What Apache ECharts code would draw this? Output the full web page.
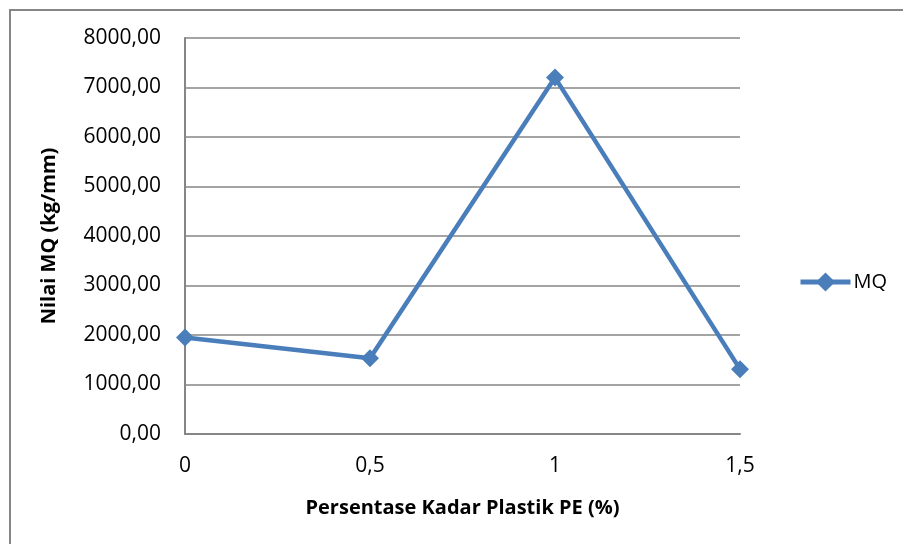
<!DOCTYPE html>
<html>
<head>
<meta charset="utf-8">
<script src="https://cdn.jsdelivr.net/npm/echarts@6/dist/echarts.min.js"></script>
<style>
  html, body { margin: 0; padding: 0; background: #fff; }
  #chart { width: 903px; height: 544px; }
</style>
</head>
<body>
<div id="chart"></div>
<script>
// Plastic PE content (%) and the resulting Marshall Quotient
const kadarPE = [0, 0.5, 1, 1.5];
const nilaiMQ = [1950, 1530, 7200, 1310];
const yTicks = { min: 0, max: 8000, interval: 1000 };
const xTicks = { min: 0, max: 1.5, interval: 0.5 };

const fontFam = '"Open Sans", sans-serif';
const gray = '#868686';
const blue = '#4A7EBB';

const commaNum = (v, d) => v.toFixed(d).replace('.', ',');

const chart = echarts.init(document.getElementById('chart'));
chart.setOption({
  animation: false,
  backgroundColor: '#fff',
  graphic: [{
    type: 'rect',
    shape: { x: 10, y: 10, width: 1000, height: 1000 },
    style: { fill: 'none', stroke: gray, lineWidth: 2 },
    silent: true
  }],
  grid: { left: 185, right: 163, top: 38, bottom: 110 },
  legend: {
    data: ['MQ'],
    left: 793,
    top: 267,
    itemWidth: 50,
    itemHeight: 24,
    itemGap: 4,
    lineStyle: { width: 5 },
    textStyle: { fontFamily: fontFam, fontSize: 20, color: '#000', padding: [0, 0, 0, -2] }
  },
  xAxis: {
    type: 'value',
    min: xTicks.min, max: xTicks.max, interval: xTicks.interval,
    name: 'Persentase Kadar Plastik PE (%)',
    nameLocation: 'middle',
    nameGap: 64,
    nameTextStyle: { fontFamily: fontFam, fontSize: 20, fontWeight: 'bold', color: '#000' },
    axisLine: { show: true, lineStyle: { color: gray, width: 2 } },
    axisTick: { show: false },
    splitLine: { show: false },
    axisLabel: {
      margin: 22,
      fontFamily: fontFam, fontSize: 21, color: '#000',
      formatter: v => (v === Math.round(v) ? String(v) : commaNum(v, 1))
    }
  },
  yAxis: {
    type: 'value',
    min: yTicks.min, max: yTicks.max, interval: yTicks.interval,
    name: 'Nilai MQ (kg/mm)',
    nameLocation: 'middle',
    nameRotate: 90,
    nameGap: 126,
    nameTextStyle: { fontFamily: fontFam, fontSize: 20, fontWeight: 'bold', color: '#000' },
    axisLine: { show: true, lineStyle: { color: gray, width: 2 } },
    axisTick: { show: false },
    splitLine: { show: true, lineStyle: { color: gray, width: 1.5 } },
    axisLabel: {
      margin: 24,
      fontFamily: fontFam, fontSize: 21, color: '#000',
      formatter: v => commaNum(v, 2)
    }
  },
  series: [{
    name: 'MQ',
    type: 'line',
    data: kadarPE.map((x, i) => [x, nilaiMQ[i]]),
    symbol: 'diamond',
    symbolSize: 18,
    showAllSymbol: true,
    lineStyle: { color: blue, width: 4.5 },
    itemStyle: { color: blue },
    clip: false
  }]
});
</script>
</body>
</html>
